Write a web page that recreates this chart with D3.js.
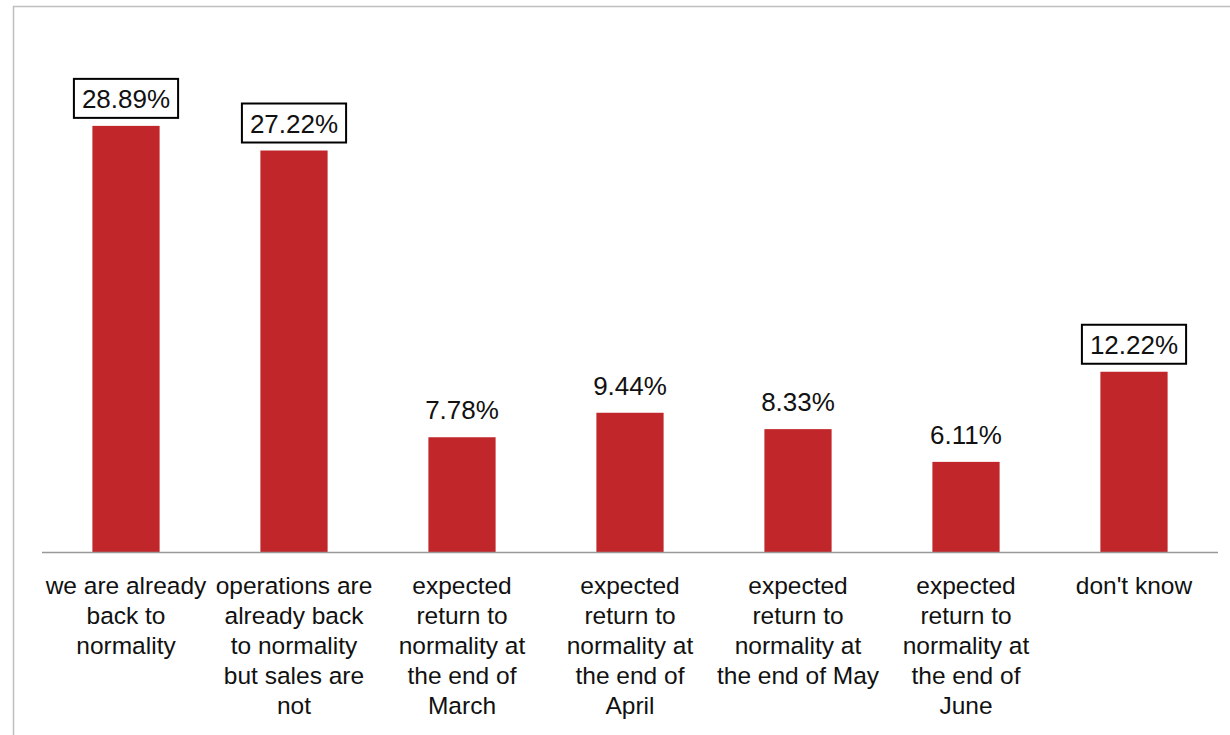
<!DOCTYPE html>
<html>
<head>
<meta charset="utf-8">
<script src="https://cdn.jsdelivr.net/npm/d3@7"></script>
<style>
  body { margin: 0; background: #fff; }
  svg { display: block; font-family: "Liberation Sans", Arial, sans-serif; }
</style>
</head>
<body>
<div id="chart"></div>
<script>
// categories, one entry per bar (line breaks as in the original)
const categories = [
    ["we are already", "back to", "normality"],
    ["operations are", "already back", "to normality", "but sales are", "not"],
    ["expected", "return to", "normality at", "the end of", "March"],
    ["expected", "return to", "normality at", "the end of", "April"],
    ["expected", "return to", "normality at", "the end of May"],
    ["expected", "return to", "normality at", "the end of", "June"],
    ["don't know"]
];
const values = [28.89, 27.22, 7.78, 9.44, 8.33, 6.11, 12.22];
const boxedIdx = [0, 1, 6]; // labels drawn with a frame

const width = 1230, height = 735;
const x0 = 42, x1 = 1218, baseY = 552;

const svg = d3.select("#chart").append("svg")
    .attr("width", width).attr("height", height);

// outer frame of the chart area
svg.append("path")
    .attr("d", `M13.5,${height} V6.5 H${width}`)
    .attr("fill", "none").attr("stroke", "#bfbfbf").attr("stroke-width", 1.5);

const x = d3.scaleBand()
    .domain(d3.range(values.length))
    .range([x0, x1])
    .paddingInner(0.6).paddingOuter(0.3);

const y = d3.scaleLinear().domain([0, 30]).range([baseY, baseY - 30 * 14.75]);

// bars
svg.append("g").selectAll("rect").data(values).enter().append("rect")
    .attr("x", (d, i) => x(i))
    .attr("y", d => y(d))
    .attr("width", x.bandwidth())
    .attr("height", d => y(0) - y(d))
    .attr("fill", "#c1272a");

// baseline axis
svg.append("g")
    .attr("transform", `translate(0,${baseY})`)
    .call(d3.axisBottom(x).tickSize(0).tickFormat(""))
    .call(g => g.select(".domain").attr("stroke", "#999").attr("stroke-width", 1.5)
        .attr("d", `M${x0},0.5H${x1}`));

// value labels
const labels = svg.append("g").selectAll("g").data(values).enter().append("g");
labels.append("text")
    .attr("x", (d, i) => x(i) + x.bandwidth() / 2)
    .attr("y", d => y(d) - 18)
    .attr("text-anchor", "middle")
    .style("font-size", "26px").attr("fill", "#111")
    .text(d => d.toFixed(2) + "%");

labels.filter((d, i) => boxedIdx.includes(i)).each(function () {
    const t = d3.select(this).select("text");
    const b = t.node().getBBox();
    d3.select(this).insert("rect", "text")
        .attr("x", b.x - 8).attr("y", b.y - 5)
        .attr("width", b.width + 16).attr("height", b.height + 9)
        .attr("fill", "#fff").attr("stroke", "#000").attr("stroke-width", 2);
});

// category labels
const cat = svg.append("g").selectAll("text").data(categories).enter().append("text")
    .attr("text-anchor", "middle")
    .style("font-size", "24.5px").attr("fill", "#111");
cat.selectAll("tspan").data((d, i) => d.map(line => ({ line, i }))).enter().append("tspan")
    .attr("x", d => x(d.i) + x.bandwidth() / 2)
    .attr("y", (d, j) => 594 + j * 30)
    .text(d => d.line);
</script>
</body>
</html>
